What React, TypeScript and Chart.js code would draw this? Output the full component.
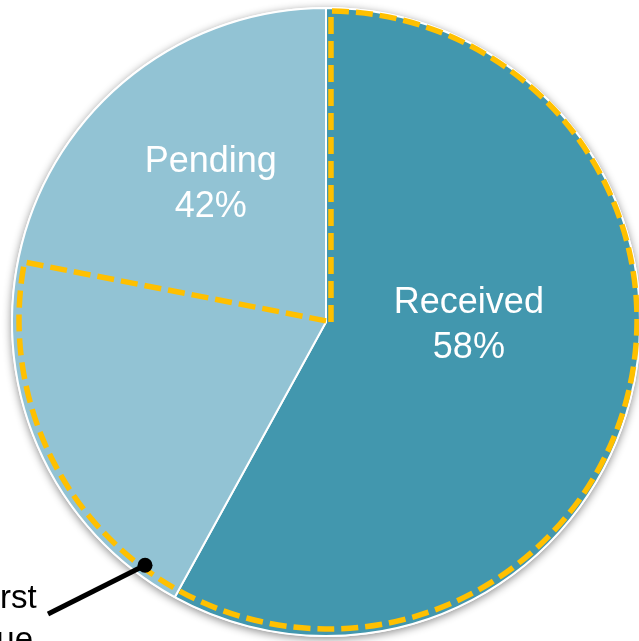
import React, { useEffect, useRef } from "react";
import { Chart, registerables } from "chart.js";

Chart.register(...registerables);

// ---- data ----
const categories = ["Received", "Pending"];
const shares = [58, 42];
const highlightRange = [0, 78]; // percent of circle outlined by dashed path
const annotationAt = [60.2]; // percent position of callout dot
const annotationLines = ["First", "Due"];

// ---- styles ----
const sliceColors = ["#4297AE", "#92C3D4"];
const labelOffsets = [
  [0.455, 0.01],
  [-0.367, -0.438],
];
const FONT = "'Liberation Sans', Arial, Helvetica, sans-serif";

const extrasPlugin = {
  id: "pieExtras",
  beforeDatasetsDraw(chart: any) {
    const arc = chart.getDatasetMeta(0).data[0] as any;
    if (!arc) return;
    const { x, y, outerRadius } = arc.getProps(["x", "y", "outerRadius"], true);
    const ctx = chart.ctx as CanvasRenderingContext2D;
    ctx.save();
    ctx.shadowColor = "rgba(0,0,0,0.45)";
    ctx.shadowBlur = 9;
    ctx.shadowOffsetY = 2;
    ctx.beginPath();
    ctx.arc(x, y, outerRadius + 1, 0, Math.PI * 2);
    ctx.fillStyle = "#ffffff";
    ctx.fill();
    ctx.restore();
  },
  afterDatasetsDraw(chart: any) {
    const arc = chart.getDatasetMeta(0).data[0] as any;
    if (!arc) return;
    const { x, y, outerRadius: R } = arc.getProps(["x", "y", "outerRadius"], true);
    const ctx = chart.ctx as CanvasRenderingContext2D;
    const total = shares.reduce((a, b) => a + b, 0);

    // labels
    ctx.save();
    ctx.fillStyle = "#ffffff";
    ctx.font = `36px ${FONT}`;
    ctx.textAlign = "center";
    ctx.textBaseline = "middle";
    categories.forEach((c, i) => {
      const [ox, oy] = labelOffsets[i];
      const lx = x + ox * R;
      const ly = y + oy * R;
      ctx.fillText(c, lx, ly - 22.5);
      ctx.fillText(`${Math.round((shares[i] / total) * 100)}%`, lx, ly + 22.5);
    });
    ctx.restore();

    // dashed highlight (slightly offset circle, as in the source)
    const hx = x + 2;
    const hy = y - 2;
    const Rd = R - 5;
    const off = 3;
    const a0 = -Math.PI / 2 + (highlightRange[0] / 100) * Math.PI * 2 + Math.asin(off / Rd);
    const a1 = -Math.PI / 2 + (highlightRange[1] / 100) * Math.PI * 2;
    ctx.save();
    ctx.strokeStyle = "#FFC000";
    ctx.lineWidth = 5.5;
    ctx.setLineDash([17, 7]);
    ctx.lineJoin = "miter";
    ctx.beginPath();
    ctx.moveTo(hx + off, y);
    ctx.arc(hx, hy, Rd, a0, a1);
    ctx.lineTo(hx + off + 1, y);
    ctx.stroke();
    ctx.restore();

    // callout
    const aa = -Math.PI / 2 + (annotationAt[0] / 100) * Math.PI * 2;
    const Ra = Rd - 3;
    const dx = hx + Ra * Math.cos(aa);
    const dy = hy + Ra * Math.sin(aa);
    const ex = x - 278;
    const ey = y + 292;
    ctx.save();
    ctx.strokeStyle = "#000000";
    ctx.fillStyle = "#000000";
    ctx.lineWidth = 5;
    ctx.beginPath();
    ctx.moveTo(ex, ey);
    ctx.lineTo(dx, dy);
    ctx.stroke();
    ctx.beginPath();
    ctx.arc(dx, dy, 7.5, 0, Math.PI * 2);
    ctx.fill();
    ctx.font = `33px ${FONT}`;
    ctx.textAlign = "left";
    ctx.textBaseline = "alphabetic";
    const tx = -ctx.measureText("Fi").width;
    ctx.fillText(annotationLines[0], tx, y + 286);
    ctx.fillText(annotationLines[1], tx, y + 328);
    ctx.restore();
  },
};

export default function App() {
  const ref = useRef<HTMLCanvasElement | null>(null);
  useEffect(() => {
    if (!ref.current) return;
    const chart = new Chart(ref.current, {
      type: "pie",
      data: {
        labels: categories,
        datasets: [
          {
            data: shares,
            backgroundColor: sliceColors,
            borderColor: "#ffffff",
            borderWidth: 2,
          },
        ],
      },
      options: {
        responsive: false,
        animation: false,
        radius: 314,
        layout: { padding: { left: 12, top: 8, right: 20, bottom: 24 } },
        plugins: {
          legend: { display: false },
          tooltip: { enabled: false },
        },
      } as any,
      plugins: [extrasPlugin],
    });
    return () => chart.destroy();
  }, []);
  return (
    <div
      style={{
        position: "fixed",
        left: 0,
        top: 0,
        width: 639,
        height: 641,
        overflow: "hidden",
        background: "#ffffff",
      }}
    >
      <canvas ref={ref} width={660} height={660} style={{ display: "block" }} />
    </div>
  );
}
